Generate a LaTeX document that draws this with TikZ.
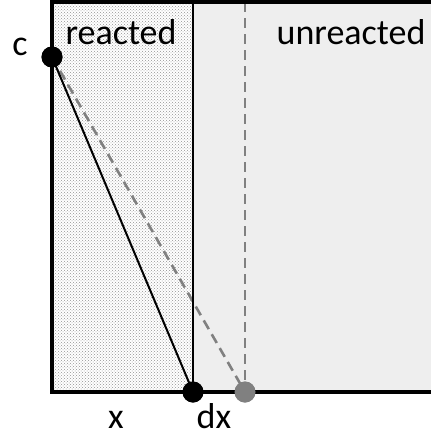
\documentclass[tikz,border=0pt]{standalone}
\usepackage{fontspec}
\setmainfont{Carlito}
\usetikzlibrary{patterns}
\definecolor{unreac}{RGB}{238,238,238}
\definecolor{dashgrey}{RGB}{128,128,128}
\begin{document}
\begin{tikzpicture}[x=1pt,y=-1pt,
  lbl/.style={font=\fontsize{36}{42}\selectfont, inner sep=0pt, anchor=base},
  dotnode/.style={circle, fill=black, minimum size=21pt, inner sep=0pt},
  greydot/.style={circle, fill=dashgrey, minimum size=21pt, inner sep=0pt},
  dashline/.style={draw=dashgrey, line width=2.6pt, dash pattern=on 10pt off 6pt},
  border/.style={line width=4pt}]
\useasboundingbox (0,0) rectangle (431,437);
% regions
\fill[white] (52,2) rectangle (193,392);
\fill[pattern=crosshatch dots, pattern color=gray!85] (52,2) rectangle (193,392);
\fill[unreac] (193,2) rectangle (431,392);
% coordinates
\coordinate (tl) at (52,2);
\coordinate (bl) at (52,392);
\coordinate (tr) at (431,2);
\coordinate (br) at (431,392);
\coordinate (dt) at (193,2);
\coordinate (gt) at (245,2);
\node[dotnode] (c) at (52,57) {};
\node[dotnode] (b) at (193,392) {};
\node[greydot] (g) at (245,392) {};
% dashed lines
\draw[dashline] (c.center) -- (g.center);
\draw[dashline] (gt) -- (g.north);
% divider and solid line
\draw[line width=2.5pt] (dt) -- (b.center);
\draw[line width=2pt] (c.center) -- (b.center);
% border
\draw[border] (tr) -- (tl) -- (bl) -- (br);
% redraw dots on top
\node[dotnode] at (c) {};
\node[dotnode] at (b) {};
\node[greydot] at (g) {};
% labels
\node[lbl] (lc) at (20,55) {c};
\node[lbl] (lr) at (121,44) {reacted};
\node[lbl] (lu) at (351,44) {unreacted};
\node[lbl] (lx) at (116,428) {x};
\node[lbl] (ldx) at (214,428) {dx};
\end{tikzpicture}
\end{document}
